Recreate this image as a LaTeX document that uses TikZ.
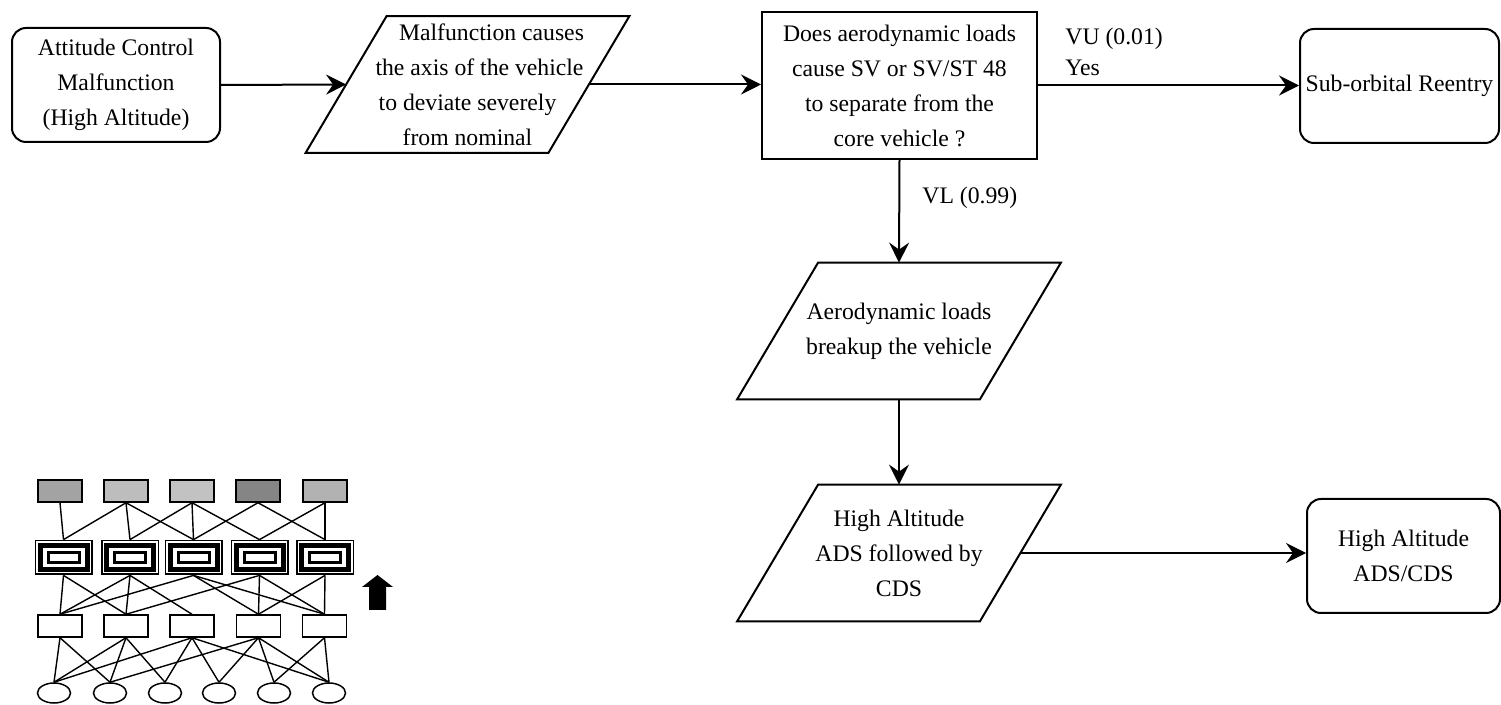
\documentclass[tikz,border=0pt]{standalone}
\usepackage{fontspec}
\setmainfont{Liberation Serif}
\usetikzlibrary{arrows.meta,calc,shapes.geometric}

\definecolor{shadeA}{gray}{0.64}
\definecolor{shadeB}{gray}{0.74}
\definecolor{shadeC}{gray}{0.76}
\definecolor{shadeD}{gray}{0.52}
\definecolor{shadeE}{gray}{0.70}

% fills a rectangle inset from the edges of the current node
\newcommand\layerfill[3]{\fill[#1] ($(path picture bounding box.south west)+(#2,#3)$) rectangle ($(path picture bounding box.north east)-(#2,#3)$);}

\begin{document}
\begin{tikzpicture}[x=0.5pt,y=-0.5pt,
  txt/.style={font=\fontsize{11.85pt}{17.5pt}\selectfont, align=center, inner sep=0pt},
  flow/.style={line width=1pt},
  arr/.style={flow,-{Stealth[length=10pt,width=10pt,inset=3.5pt]}},
  roundbox/.style={txt,draw,line width=1pt,rounded corners=7pt},
  plainbox/.style={txt,draw,line width=1pt},
  slantbox/.style={txt,minimum width=161.5pt,minimum height=68pt},
  net/.style={line width=0.7pt},
  unitbox/.style={draw,line width=0.75pt,minimum width=22pt,minimum height=11pt,inner sep=0pt},
  ringbox/.style={minimum width=29pt,minimum height=17.5pt,inner sep=0pt,fill=black,
    path picture={\layerfill{white}{0.75pt}{0.75pt}\layerfill{black}{1.5pt}{1.5pt}%
      \layerfill{white}{4pt}{4pt}\layerfill{black}{6pt}{5.5pt}\layerfill{white}{7.5pt}{7pt}}},
  oval/.style={ellipse,draw,line width=0.75pt,minimum width=16.5pt,minimum height=10pt,inner sep=0pt}
]
\useasboundingbox (0,0) rectangle (1501,705);

% ---- flow chart ----
\node[roundbox,minimum width=104pt,minimum height=57pt] (n1) at (116,85)
  {Attitude Control\\Malfunction\\(High Altitude)};
\node[slantbox] (p2) at (467.5,84.5)
  {\hspace*{24pt}Malfunction causes\\\hspace*{12pt}the axis of the vehicle\\to deviate severely\\from nominal};
\node[plainbox,minimum width=137.5pt,minimum height=73.5pt] (q3) at (899.5,85.5)
  {Does aerodynamic loads\\cause SV or SV/ST 48\\to separate from the\\core vehicle ?};
\node[roundbox,minimum width=99.5pt,minimum height=57pt] (n4) at (1399.5,86)
  {Sub-orbital Reentry};
\node[slantbox] (p5) at (899,331) {Aerodynamic loads\\breakup the vehicle};
\node[slantbox] (p6) at (899,553) {High Altitude\\ADS followed by\\CDS};
\node[roundbox,minimum width=96.5pt,minimum height=57pt] (n7) at (1403.5,556)
  {High Altitude\\ADS/CDS};

% parallelogram outlines
\foreach \p in {p2,p5,p6}
  \draw[flow] (\p.south west) -- ($(\p.north west)+(81,0)$) -- (\p.north east)
    -- ($(\p.south east)-(81,0)$) -- cycle;

\coordinate (p2in) at ($(p2.west)+(40.5,0)$);
\coordinate (p2out) at ($(p2.east)-(40.5,0)$);
\coordinate (p6out) at ($(p6.east)-(40.5,0)$);

\draw[arr] (n1.east) -- (p2in);
\draw[arr] (p2out) -- (p2out -| q3.west);
\draw[arr] (q3.east) -- (q3.east -| n4.west);
\draw[arr] (q3.south) -- (p5.north);
\draw[arr] (p5.south) -- (p6.north);
\draw[arr] (p6out) -- (p6out -| n7.west);

\node[txt,anchor=base west] (vu) at (1065,45) {VU (0.01)};
\node[txt,anchor=base west] (yes) at (1065,76) {Yes};
\node[txt,anchor=base west] (vl) at (922,204) {VL (0.99)};

% ---- layered network ----
\foreach \i/\x/\c in {1/60/shadeA,2/126/shadeB,3/192/shadeC,4/258/shadeD,5/325/shadeE}
  \node[unitbox,fill=\c] (t\i) at (\x,491) {};
\foreach \i/\x in {1/63.5,2/130,3/193.5,4/259.5,5/325}
  \node[ringbox] (m\i) at (\x,557.5) {};
\foreach \i/\x in {1/60,2/126,3/192,4/258.5,5/324.5}
  \node[unitbox,fill=white] (b\i) at (\x,626) {};
\foreach \i/\x in {1/54,2/110,3/165,4/219,5/274,6/329}
  \node[oval] (e\i) at (\x,693) {};

\foreach \a/\b in {1/1,2/1,2/2,2/3,3/2,3/3,3/4,4/3,4/5,5/4,5/5}
  \draw[net] (t\a.south) -- (m\b.north);
\foreach \a/\b in {1/1,1/2,2/1,2/2,2/3,3/1,3/4,3/5,4/2,4/4,4/5,5/4,5/5}
  \draw[net] (m\a.south) -- (b\b.north);
\foreach \a/\b in {1/1,1/2,2/1,2/2,2/3,3/1,3/3,3/4,3/6,4/2,4/4,4/5,4/6,5/5,5/6}
  \draw[net] (b\a.south) -- (e\b.north);

% upward block arrow
\fill (369,610) -- (369,587) -- (362,587) -- (377.5,575) -- (393,587)
  -- (386,587) -- (386,610) -- cycle;
\end{tikzpicture}
\end{document}
